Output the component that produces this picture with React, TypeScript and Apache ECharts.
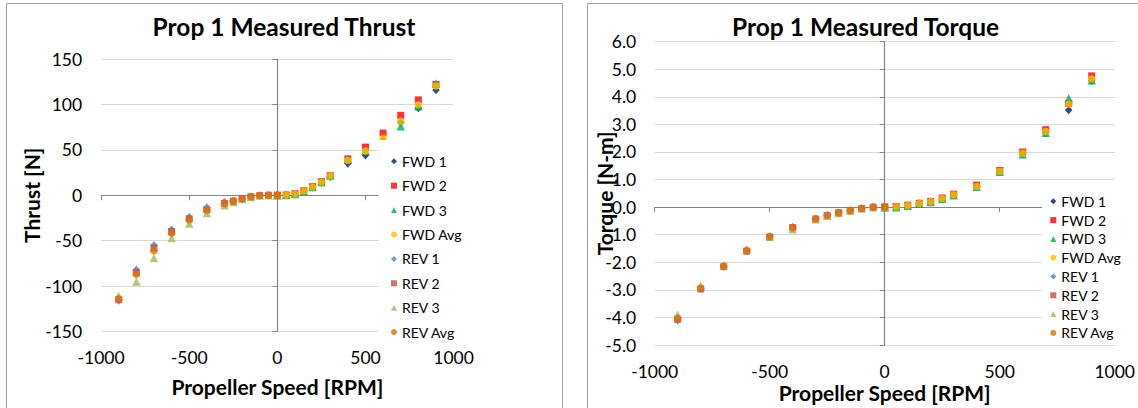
import { useEffect, useRef } from "react";
import * as echarts from "echarts";

// ---------- data ----------
const rpmRev = [-900, -800, -700, -600, -500, -400, -300, -250, -200, -150, -100, -50, 0];
const rpmFwd = [0, 50, 100, 150, 200, 250, 300, 400, 500, 600, 700, 800, 900];

const thrustFwd1 = [0, 0.2, 1.3, 4.3, 8.7, 14, 20.5, 35, 44, 60, 80, 96, 116];
const thrustFwd2 = [0, 0.3, 1.8, 5, 9.5, 15, 21.5, 40, 53, 68.5, 88, 105, 122];
const thrustFwd3 = [0, 0.2, 1.5, 4.5, 9, 14.5, 22, 40, 49, 60, 76, 98, 123];
const thrustFwdAvg = [0, 0.2, 1.5, 4.6, 9.1, 14.5, 21.3, 38.3, 48.7, 62.8, 81.3, 99.7, 120.3];
const thrustRev1 = [-116, -82, -55, -38, -24, -13.5, -7.5, -6, -3.5, -1.5, -0.3, 0, 0];
const thrustRev2 = [-115, -85, -58, -40, -26, -16, -9, -6.5, -3.8, -1.6, -0.3, 0, 0];
const thrustRev3 = [-111, -95, -69, -47, -31, -19.5, -11, -7.5, -4.2, -1.8, -0.4, 0, 0];
const thrustRevAvg = [-114, -87, -61, -41.7, -27, -16.3, -9.2, -6.7, -3.8, -1.6, -0.3, 0, 0];

const torqueFwd1 = [0, 0, 0.05, 0.12, 0.19, 0.3, 0.44, 0.75, 1.28, 1.93, 2.7, 3.52, 4.58];
const torqueFwd2 = [0, 0.02, 0.07, 0.14, 0.21, 0.33, 0.47, 0.8, 1.33, 2.0, 2.81, 3.76, 4.76];
const torqueFwd3 = [0, 0, 0.05, 0.12, 0.19, 0.3, 0.43, 0.74, 1.28, 1.92, 2.7, 3.95, 4.6];
const torqueFwdAvg = [0, 0.01, 0.06, 0.13, 0.2, 0.31, 0.45, 0.76, 1.3, 1.95, 2.74, 3.74, 4.65];
const torqueRev1 = [-4.1, -2.95, -2.15, -1.58, -1.07, -0.72, -0.42, -0.3, -0.2, -0.12, -0.05, 0, 0];
const torqueRev2 = [-4.07, -2.97, -2.16, -1.6, -1.08, -0.74, -0.43, -0.3, -0.2, -0.12, -0.05, 0, 0];
const torqueRev3 = [-3.9, -2.85, -2.12, -1.52, -1.07, -0.8, -0.44, -0.31, -0.21, -0.13, -0.05, 0, 0];
const torqueRevAvg = [-4.03, -2.93, -2.14, -1.57, -1.07, -0.75, -0.43, -0.3, -0.2, -0.12, -0.05, 0, 0];

const seriesNames = ["FWD 1", "FWD 2", "FWD 3", "FWD Avg", "REV 1", "REV 2", "REV 3", "REV Avg"];
const seriesColors = ["#002060", "#FF0000", "#00B050", "#FFC000", "#4F81BD", "#C0504D", "#9BBB59", "#E36C0A"];
const seriesSymbols = ["diamond", "rect", "triangle", "circle", "diamond", "rect", "triangle", "circle"];

const thrustTitle = "Prop 1 Measured Thrust";
const torqueTitle = "Prop 1 Measured Torque";
const xName = "Propeller Speed [RPM]";
const thrustName = "Thrust [N]";
const torqueName = "Torque [N-m]";

// ---------- helpers ----------
const FONT = "Lato, 'Noto Sans', sans-serif";
const pairs = (xs: number[], ys: number[]) => xs.map((x, i) => [x, ys[i]]);
const symbolSize = (s: string) =>
  s === "diamond" ? [7.5, 8.5] : s === "rect" ? 7 : s === "triangle" ? 8.5 : 7.5;

function buildSeries(sets: number[][], axisIndex: number) {
  return sets.map((ys, i) => ({
    type: "scatter",
    name: seriesNames[i],
    xAxisIndex: axisIndex,
    yAxisIndex: axisIndex,
    data: pairs(i < 4 ? rpmFwd : rpmRev, ys),
    symbol: seriesSymbols[i],
    symbolSize: symbolSize(seriesSymbols[i]),
    itemStyle: { color: seriesColors[i] },
    emphasis: { disabled: true },
  }));
}

function axesFor(
  gridIndex: number,
  yMin: number,
  yMax: number,
  yInterval: number,
  yFmt: (v: number) => string,
  yName: string,
  yNameGap: number,
  xLabelMargin: number,
  xNameGap: number,
  yLabelMargin: number
) {
  const lineColor = "#868686";
  const labelStyle = { fontFamily: FONT, fontSize: 17.5, color: "#000" };
  const nameStyle = { fontFamily: FONT, fontSize: 21, fontWeight: "bold" as const, color: "#000" };
  const xAxes = [
    {
      type: "value",
      gridIndex,
      position: "bottom",
      min: -1000,
      max: 1000,
      interval: 500,
      axisLine: { show: false, onZero: false },
      axisTick: { show: false },
      splitLine: { show: false },
      axisLabel: { ...labelStyle, margin: xLabelMargin, formatter: (v: number) => String(v) },
      name: xName,
      nameLocation: "middle",
      nameGap: xNameGap,
      nameMoveOverlap: false,
      nameTextStyle: nameStyle,
    },
    {
      type: "value",
      gridIndex,
      position: "top",
      min: -1000,
      max: 1000,
      interval: 500,
      axisLine: { show: true, onZero: true, lineStyle: { color: lineColor, width: 1.2 } },
      axisTick: { show: true, inside: true, length: 5, lineStyle: { color: lineColor } },
      axisLabel: { show: false },
      splitLine: { show: false },
    },
  ];
  const yAxes = [
    {
      type: "value",
      gridIndex,
      position: "left",
      min: yMin,
      max: yMax,
      interval: yInterval,
      axisLine: { show: false, onZero: false },
      axisTick: { show: false },
      splitLine: { show: true, lineStyle: { color: "#D9D9D9", width: 1 } },
      axisLabel: { ...labelStyle, margin: yLabelMargin, formatter: yFmt },
      name: yName,
      nameLocation: "middle",
      nameRotate: 90,
      nameGap: yNameGap,
      nameMoveOverlap: false,
      nameTextStyle: nameStyle,
    },
    {
      type: "value",
      gridIndex,
      position: "right",
      min: yMin,
      max: yMax,
      interval: yInterval,
      axisLine: { show: true, onZero: true, lineStyle: { color: lineColor, width: 1.2 } },
      axisTick: { show: true, inside: true, length: 5, lineStyle: { color: lineColor } },
      axisLabel: { show: false },
      splitLine: { show: false },
    },
  ];
  return { xAxes, yAxes };
}

function legendFor(left: number, top: number, gap: number, padding: number[]) {
  return {
    orient: "vertical",
    left,
    top,
    itemWidth: 6,
    itemHeight: 6,
    itemGap: gap,
    padding,
    backgroundColor: "#ffffff",
    selectedMode: false,
    textStyle: { fontFamily: FONT, fontSize: 14, lineHeight: 16, color: "#000" },
    data: seriesNames.map((n, i) => ({ name: n, icon: seriesSymbols[i] })),
  };
}

export default function App() {
  const ref = useRef<HTMLDivElement>(null);
  useEffect(() => {
    if (!ref.current) return;
    const chart = echarts.init(ref.current, undefined, { renderer: "svg" });
    const left = axesFor(0, -150, 150, 50, (v) => String(v), thrustName, 59.5, 17, 44, 19);
    const right = axesFor(1, -5, 6, 1, (v) => v.toFixed(1), torqueName, 40, 17, 37, 18.5);
    const titleStyle = { fontFamily: FONT, fontSize: 24.5, fontWeight: "bold", color: "#000" };
    const option: any = {
      animation: false,
      backgroundColor: "#ffffff",
      title: [
        { text: thrustTitle, left: 279, top: 9, textAlign: "center", textStyle: titleStyle },
        { text: torqueTitle, left: 860.6, top: 9, textAlign: "center", textStyle: titleStyle },
      ],
      grid: [
        { left: 101.1, right: 1138 - 453.6, top: 59, bottom: 408 - 331.5, containLabel: false },
        { left: 654.7, right: 1138 - 1117.4, top: 41.7, bottom: 408 - 348.7, containLabel: false },
      ],
      xAxis: [...left.xAxes, ...right.xAxes],
      yAxis: [...left.yAxes, ...right.yAxes],
      legend: [legendFor(378.6, 140, 8.4, [13.3, 4, 5, 12.4]), legendFor(1042, 188, 2.8, [5.3, 4, 4, 8.3])],
      series: [
        ...buildSeries(
          [thrustFwd1, thrustFwd2, thrustFwd3, thrustFwdAvg, thrustRev1, thrustRev2, thrustRev3, thrustRevAvg],
          0
        ),
        ...buildSeries(
          [torqueFwd1, torqueFwd2, torqueFwd3, torqueFwdAvg, torqueRev1, torqueRev2, torqueRev3, torqueRevAvg],
          2
        ),
      ],
      graphic: [
        {
          type: "rect",
          shape: { x: 6.5, y: 3.5, width: 556, height: 430 },
          style: { fill: "none", stroke: "#A0A0A0", lineWidth: 1 },
          silent: true,
          z: 100,
        },
        {
          type: "rect",
          shape: { x: 587.5, y: 3.5, width: 580, height: 430 },
          style: { fill: "none", stroke: "#A0A0A0", lineWidth: 1 },
          silent: true,
          z: 100,
        },
      ],
    };
    chart.setOption(option);
    return () => chart.dispose();
  }, []);
  return (
    <div
      ref={ref}
      style={{ position: "absolute", left: 0, top: 0, width: 1138, height: 408 }}
    />
  );
}
